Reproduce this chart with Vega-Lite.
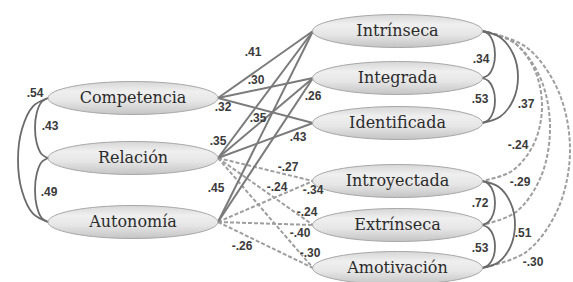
{
  "$schema": "https://vega.github.io/schema/vega-lite/v6.json",
  "width": 573,
  "height": 282,
  "padding": 0,
  "autosize": {"type": "none"},
  "background": "#ffffff",
  "config": {"view": {"stroke": null}},
  "datasets": {
    "nodes": [
      {"name": "Competencia", "x": 133, "y": 98},
      {"name": "Relación", "x": 133, "y": 158},
      {"name": "Autonomía", "x": 133, "y": 222},
      {"name": "Intrínseca", "x": 397.5, "y": 31},
      {"name": "Integrada", "x": 397.5, "y": 78},
      {"name": "Identificada", "x": 397.5, "y": 123},
      {"name": "Introyectada", "x": 397.5, "y": 181},
      {"name": "Extrínseca", "x": 397.5, "y": 225},
      {"name": "Amotivación", "x": 397.5, "y": 268}
    ],
    "paths": [
      {"from": "Competencia", "to": "Intrínseca", "x": 218, "y": 98, "x2": 313, "y2": 31, "type": "solid"},
      {"from": "Competencia", "to": "Integrada", "x": 218, "y": 98, "x2": 313, "y2": 78, "type": "solid"},
      {"from": "Competencia", "to": "Identificada", "x": 218, "y": 98, "x2": 313, "y2": 123, "type": "solid"},
      {"from": "Relación", "to": "Intrínseca", "x": 218, "y": 158, "x2": 313, "y2": 31, "type": "solid"},
      {"from": "Relación", "to": "Integrada", "x": 218, "y": 158, "x2": 313, "y2": 78, "type": "solid"},
      {"from": "Relación", "to": "Identificada", "x": 218, "y": 158, "x2": 313, "y2": 123, "type": "solid"},
      {"from": "Autonomía", "to": "Intrínseca", "x": 218, "y": 222, "x2": 313, "y2": 31, "type": "solid"},
      {"from": "Autonomía", "to": "Integrada", "x": 218, "y": 222, "x2": 313, "y2": 78, "type": "solid"},
      {"from": "Relación", "to": "Introyectada", "x": 218, "y": 158, "x2": 313, "y2": 181, "type": "dashed"},
      {"from": "Relación", "to": "Extrínseca", "x": 218, "y": 158, "x2": 313, "y2": 225, "type": "dashed"},
      {"from": "Relación", "to": "Amotivación", "x": 218, "y": 158, "x2": 313, "y2": 268, "type": "dashed"},
      {"from": "Autonomía", "to": "Introyectada", "x": 218, "y": 222, "x2": 313, "y2": 181, "type": "dashed"},
      {"from": "Autonomía", "to": "Extrínseca", "x": 218, "y": 222, "x2": 313, "y2": 225, "type": "dashed"},
      {"from": "Autonomía", "to": "Amotivación", "x": 218, "y": 222, "x2": 313, "y2": 268, "type": "dashed"}
    ],
    "curves": [
      {"id": "A", "type": "solid", "i": 0, "x": 482, "y": 31},
      {"id": "A", "type": "solid", "i": 1, "x": 488.5, "y": 34.1},
      {"id": "A", "type": "solid", "i": 2, "x": 493.3, "y": 42.8},
      {"id": "A", "type": "solid", "i": 3, "x": 495, "y": 54.5},
      {"id": "A", "type": "solid", "i": 4, "x": 493.3, "y": 66.3},
      {"id": "A", "type": "solid", "i": 5, "x": 488.5, "y": 74.9},
      {"id": "A", "type": "solid", "i": 6, "x": 482, "y": 78},
      {"id": "B", "type": "solid", "i": 0, "x": 482, "y": 78},
      {"id": "B", "type": "solid", "i": 1, "x": 488.5, "y": 81},
      {"id": "B", "type": "solid", "i": 2, "x": 493.3, "y": 89.3},
      {"id": "B", "type": "solid", "i": 3, "x": 495, "y": 100.5},
      {"id": "B", "type": "solid", "i": 4, "x": 493.3, "y": 111.8},
      {"id": "B", "type": "solid", "i": 5, "x": 488.5, "y": 120},
      {"id": "B", "type": "solid", "i": 6, "x": 482, "y": 123},
      {"id": "C", "type": "solid", "i": 0, "x": 482, "y": 31},
      {"id": "C", "type": "solid", "i": 1, "x": 500, "y": 37.2},
      {"id": "C", "type": "solid", "i": 2, "x": 513.2, "y": 54},
      {"id": "C", "type": "solid", "i": 3, "x": 518, "y": 77},
      {"id": "C", "type": "solid", "i": 4, "x": 513.2, "y": 100},
      {"id": "C", "type": "solid", "i": 5, "x": 500, "y": 116.8},
      {"id": "C", "type": "solid", "i": 6, "x": 482, "y": 123},
      {"id": "G", "type": "solid", "i": 0, "x": 482, "y": 181},
      {"id": "G", "type": "solid", "i": 1, "x": 488.5, "y": 184},
      {"id": "G", "type": "solid", "i": 2, "x": 493.3, "y": 192},
      {"id": "G", "type": "solid", "i": 3, "x": 495, "y": 203},
      {"id": "G", "type": "solid", "i": 4, "x": 493.3, "y": 214},
      {"id": "G", "type": "solid", "i": 5, "x": 488.5, "y": 222},
      {"id": "G", "type": "solid", "i": 6, "x": 482, "y": 225},
      {"id": "H", "type": "solid", "i": 0, "x": 482, "y": 225},
      {"id": "H", "type": "solid", "i": 1, "x": 488.5, "y": 228},
      {"id": "H", "type": "solid", "i": 2, "x": 493.3, "y": 235.8},
      {"id": "H", "type": "solid", "i": 3, "x": 495, "y": 246.5},
      {"id": "H", "type": "solid", "i": 4, "x": 493.3, "y": 257.3},
      {"id": "H", "type": "solid", "i": 5, "x": 488.5, "y": 265},
      {"id": "H", "type": "solid", "i": 6, "x": 482, "y": 268},
      {"id": "I", "type": "solid", "i": 0, "x": 482, "y": 181},
      {"id": "I", "type": "solid", "i": 1, "x": 498.5, "y": 186.8},
      {"id": "I", "type": "solid", "i": 2, "x": 510.6, "y": 202.8},
      {"id": "I", "type": "solid", "i": 3, "x": 515, "y": 224.5},
      {"id": "I", "type": "solid", "i": 4, "x": 510.6, "y": 246.3},
      {"id": "I", "type": "solid", "i": 5, "x": 498.5, "y": 262.2},
      {"id": "I", "type": "solid", "i": 6, "x": 482, "y": 268},
      {"id": "J", "type": "solid", "i": 0, "x": 48, "y": 98},
      {"id": "J", "type": "solid", "i": 1, "x": 41.5, "y": 102},
      {"id": "J", "type": "solid", "i": 2, "x": 36.7, "y": 113},
      {"id": "J", "type": "solid", "i": 3, "x": 35, "y": 128},
      {"id": "J", "type": "solid", "i": 4, "x": 36.7, "y": 143},
      {"id": "J", "type": "solid", "i": 5, "x": 41.5, "y": 154},
      {"id": "J", "type": "solid", "i": 6, "x": 48, "y": 158},
      {"id": "K", "type": "solid", "i": 0, "x": 48, "y": 158},
      {"id": "K", "type": "solid", "i": 1, "x": 41.5, "y": 162.3},
      {"id": "K", "type": "solid", "i": 2, "x": 36.7, "y": 174},
      {"id": "K", "type": "solid", "i": 3, "x": 35, "y": 190},
      {"id": "K", "type": "solid", "i": 4, "x": 36.7, "y": 206},
      {"id": "K", "type": "solid", "i": 5, "x": 41.5, "y": 217.7},
      {"id": "K", "type": "solid", "i": 6, "x": 48, "y": 222},
      {"id": "L", "type": "solid", "i": 0, "x": 48, "y": 98},
      {"id": "L", "type": "solid", "i": 1, "x": 33, "y": 106.3},
      {"id": "L", "type": "solid", "i": 2, "x": 22, "y": 129},
      {"id": "L", "type": "solid", "i": 3, "x": 18, "y": 160},
      {"id": "L", "type": "solid", "i": 4, "x": 22, "y": 191},
      {"id": "L", "type": "solid", "i": 5, "x": 33, "y": 213.7},
      {"id": "L", "type": "solid", "i": 6, "x": 48, "y": 222},
      {"id": "D", "type": "dashed", "i": 0, "x": 482, "y": 31},
      {"id": "D", "type": "dashed", "i": 1, "x": 512, "y": 41},
      {"id": "D", "type": "dashed", "i": 2, "x": 534, "y": 68.5},
      {"id": "D", "type": "dashed", "i": 3, "x": 542, "y": 106},
      {"id": "D", "type": "dashed", "i": 4, "x": 534, "y": 143.5},
      {"id": "D", "type": "dashed", "i": 5, "x": 512, "y": 171},
      {"id": "D", "type": "dashed", "i": 6, "x": 482, "y": 181},
      {"id": "E", "type": "dashed", "i": 0, "x": 482, "y": 31},
      {"id": "E", "type": "dashed", "i": 1, "x": 516, "y": 44},
      {"id": "E", "type": "dashed", "i": 2, "x": 541, "y": 79.5},
      {"id": "E", "type": "dashed", "i": 3, "x": 550, "y": 128},
      {"id": "E", "type": "dashed", "i": 4, "x": 541, "y": 176.5},
      {"id": "E", "type": "dashed", "i": 5, "x": 516, "y": 212},
      {"id": "E", "type": "dashed", "i": 6, "x": 482, "y": 225},
      {"id": "F", "type": "dashed", "i": 0, "x": 482, "y": 31},
      {"id": "F", "type": "dashed", "i": 1, "x": 526, "y": 46.9},
      {"id": "F", "type": "dashed", "i": 2, "x": 558, "y": 90.3},
      {"id": "F", "type": "dashed", "i": 3, "x": 570, "y": 149.5},
      {"id": "F", "type": "dashed", "i": 4, "x": 558, "y": 208.8},
      {"id": "F", "type": "dashed", "i": 5, "x": 526, "y": 252.1},
      {"id": "F", "type": "dashed", "i": 6, "x": 482, "y": 268}
    ],
    "labels": [
      {"text": ".41", "x": 253, "y": 52},
      {"text": ".30", "x": 256, "y": 80},
      {"text": ".32", "x": 223, "y": 107},
      {"text": ".26", "x": 313, "y": 96},
      {"text": ".35", "x": 258, "y": 118},
      {"text": ".35", "x": 218, "y": 141},
      {"text": ".43", "x": 298, "y": 137},
      {"text": ".45", "x": 216, "y": 188},
      {"text": "-.27", "x": 288, "y": 167},
      {"text": "-.24", "x": 277, "y": 187},
      {"text": "-.34", "x": 313, "y": 190},
      {"text": "-.24", "x": 307, "y": 212},
      {"text": "-.40", "x": 300, "y": 233},
      {"text": "-.26", "x": 242, "y": 246},
      {"text": "-.30", "x": 310, "y": 253},
      {"text": ".34", "x": 481, "y": 59},
      {"text": ".53", "x": 480, "y": 99},
      {"text": ".37", "x": 526, "y": 104},
      {"text": "-.24", "x": 518, "y": 145},
      {"text": "-.29", "x": 520, "y": 182},
      {"text": ".72", "x": 480, "y": 203},
      {"text": ".51", "x": 523, "y": 233},
      {"text": ".53", "x": 480, "y": 248},
      {"text": "-.30", "x": 533, "y": 262},
      {"text": ".54", "x": 35, "y": 93},
      {"text": ".43", "x": 50, "y": 126},
      {"text": ".49", "x": 49, "y": 192}
    ]
  },
  "encoding": {
    "x": {"field": "x", "type": "quantitative", "scale": {"domain": [0, 573], "nice": false, "zero": false}, "axis": null},
    "y": {"field": "y", "type": "quantitative", "scale": {"domain": [0, 282], "nice": false, "zero": false, "reverse": true}, "axis": null}
  },
  "layer": [
    {
      "data": {"name": "paths"},
      "transform": [{"filter": "datum.type === 'dashed'"}],
      "mark": {"type": "rule", "stroke": "#9e9e9e", "strokeWidth": 2, "strokeDash": [4, 2]},
      "encoding": {"x2": {"field": "x2"}, "y2": {"field": "y2"}}
    },
    {
      "data": {"name": "paths"},
      "transform": [{"filter": "datum.type === 'solid'"}],
      "mark": {"type": "rule", "stroke": "#7a7a7a", "strokeWidth": 2},
      "encoding": {"x2": {"field": "x2"}, "y2": {"field": "y2"}}
    },
    {
      "data": {"name": "curves"},
      "transform": [{"filter": "datum.type === 'dashed'"}],
      "mark": {"type": "line", "interpolate": "catmull-rom", "stroke": "#9e9e9e", "strokeWidth": 2, "strokeDash": [4, 2]},
      "encoding": {"detail": {"field": "id"}, "order": {"field": "i", "type": "quantitative"}}
    },
    {
      "data": {"name": "curves"},
      "transform": [{"filter": "datum.type === 'solid'"}],
      "mark": {"type": "line", "interpolate": "catmull-rom", "stroke": "#6a6a6a", "strokeWidth": 1.8},
      "encoding": {"detail": {"field": "id"}, "order": {"field": "i", "type": "quantitative"}}
    },
    {
      "data": {"name": "nodes"},
      "mark": {
        "type": "point",
        "shape": "M-1,0C-1,-0.1071 -0.5523,-0.194 0,-0.194C0.5523,-0.194 1,-0.1071 1,0C1,0.1071 0.5523,0.194 0,0.194C-0.5523,0.194 -1,0.1071 -1,0Z",
        "size": 28900,
        "filled": true,
        "opacity": 1,
        "fillOpacity": 1,
        "fill": {
          "gradient": "linear", "x1": 0, "y1": 0, "x2": 0, "y2": 1,
          "stops": [
            {"offset": 0, "color": "#d6d6d6"},
            {"offset": 0.3, "color": "#efefef"},
            {"offset": 0.6, "color": "#e6e6e6"},
            {"offset": 1, "color": "#c4c4c4"}
          ]
        },
        "stroke": "#a8a8a8",
        "strokeWidth": 1
      }
    },
    {
      "data": {"name": "nodes"},
      "mark": {"type": "text", "font": "DejaVu Serif", "fontSize": 16, "fill": "#2b2b2b", "align": "center", "baseline": "middle"},
      "encoding": {"text": {"field": "name"}}
    },
    {
      "data": {"name": "labels"},
      "mark": {"type": "text", "font": "Liberation Sans, Arial, sans-serif", "fontSize": 12, "fontWeight": "bold", "fill": "#3a3a3a", "align": "center", "baseline": "middle"},
      "encoding": {"text": {"field": "text"}}
    }
  ]
}
